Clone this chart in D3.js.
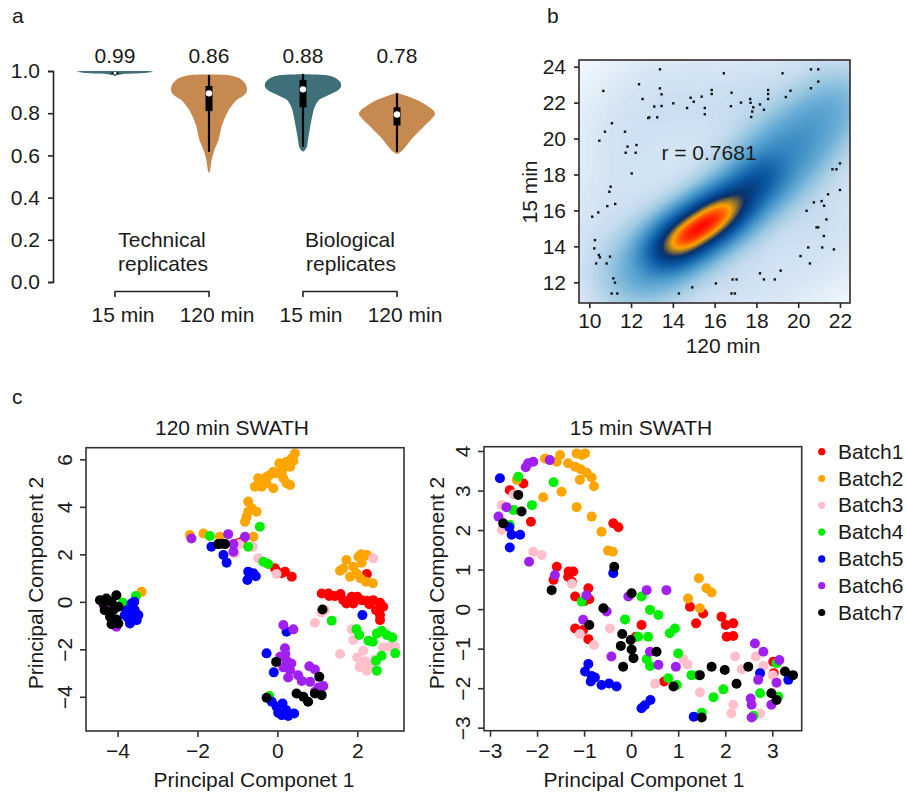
<!DOCTYPE html>
<html>
<head>
<meta charset="utf-8">
<script src="https://cdn.jsdelivr.net/npm/d3@7"></script>
<style>
  body { margin: 0; background: #fff; }
  text { font-family: "Liberation Sans", Arial, sans-serif; fill: #1a1a1a; }
</style>
</head>
<body>
<svg id="fig" width="906" height="795"></svg>
<script>
// ---------- panel a : violins ----------
var violinCats = ["15 min", "120 min", "15 min", "120 min"];
var violinMedians = ["0.99", "0.86", "0.88", "0.78"];
var replicateGroups = ["Technical", "Biological"];
// [correlation, relative width]
var violinTech15 = [[1.0, 0.9], [0.996, 1.0], [0.992, 0.85], [0.988, 0.45], [0.984, 0.15], [0.98, 0.04], [0.977, 0.0]];
var violinTech120 = [[0.983, 0.0], [0.978, 0.6], [0.96, 0.85], [0.935, 0.97], [0.91, 1.0], [0.89, 0.95], [0.862, 0.73], [0.83, 0.58], [0.799, 0.47], [0.736, 0.33], [0.672, 0.25], [0.625, 0.14], [0.578, 0.07], [0.53, 0.03], [0.515, 0.0]];
var violinBio15 = [[0.985, 0.0], [0.979, 0.66], [0.965, 0.88], [0.945, 0.99], [0.925, 1.0], [0.91, 0.93], [0.894, 0.77], [0.878, 0.58], [0.862, 0.42], [0.83, 0.31], [0.8, 0.26], [0.736, 0.19], [0.672, 0.13], [0.64, 0.1], [0.625, 0.05], [0.618, 0.0]];
var violinBio120 = [[0.897, 0.0], [0.885, 0.2], [0.862, 0.53], [0.83, 0.83], [0.81, 0.97], [0.795, 1.0], [0.775, 0.92], [0.736, 0.7], [0.688, 0.44], [0.64, 0.22], [0.62, 0.12], [0.605, 0.0]];
// [min, q1, median, q3, max]
var boxStats = [[0.98, 0.986, 0.99, 0.994, 0.997], [0.617, 0.81, 0.894, 0.929, 0.981], [0.641, 0.828, 0.913, 0.957, 0.986], [0.617, 0.742, 0.794, 0.828, 0.894]];

// ---------- panel b : smoothScatter ----------
// dense ridge of the peptide intensities
var densRidgeX = [13.2, 13.65, 14.1, 14.55, 15.0, 15.45, 15.9, 16.35, 16.8, 17.25, 17.7, 18.15, 18.6];
var densRidgeY = [13.52, 13.86, 14.21, 14.56, 14.91, 15.26, 15.6, 15.95, 16.3, 16.75, 17.25, 17.75, 18.25];
var densRidgeW = [0.2, 0.45, 0.75, 1.0, 1.0, 1.0, 1.0, 0.85, 0.58, 0.42, 0.32, 0.22, 0.15];
// wider, fainter band along the diagonal
var densHaloX = [11.8, 12.5, 13.2, 13.9, 14.6, 15.3, 16.0, 16.7, 17.4, 18.1, 18.8, 19.5, 20.2, 20.9, 21.6, 22.2];
var densHaloY = [12.1, 12.7, 13.35, 13.95, 14.5, 15.05, 15.6, 16.2, 16.95, 17.75, 18.55, 19.35, 20.15, 20.95, 21.7, 22.4];
var densHaloW = [0.036, 0.072, 0.116, 0.1, 0.09, 0.08, 0.08, 0.09, 0.11, 0.14, 0.16, 0.135, 0.105, 0.08, 0.058, 0.04];
var densBroadW = [0.0005, 0.0008, 0.001, 0.0015, 0.0018, 0.002, 0.002, 0.0018, 0.0015, 0.0014, 0.0013, 0.0011, 0.001, 0.0009, 0.0008, 0.0006];
var outlierX = [13.38, 16.44, 19.25, 20.61, 20.96, 20.96, 20.61, 19.63, 19.41, 18.56, 18.56, 18.56, 18.17, 18.36, 17.7, 17.72, 17.85, 17.8, 17.75, 17.26, 16.81, 16.78, 15.86, 15.86, 15.38, 15.53, 15.53, 15.0, 14.85, 14.68, 14.02, 13.46, 13.11, 13.25, 13.38, 13.46, 12.87, 12.82, 12.55, 12.38, 10.67, 11.08, 10.75, 10.48, 11.71, 11.83, 11.74, 12.26, 12.22, 12.03, 11.02, 10.96, 10.86, 11.24, 10.43, 10.14, 10.27, 10.24, 10.46, 10.51, 10.33, 10.83, 10.99, 11.15, 11.23, 11.07, 11.34, 14.29, 14.93, 16.06, 16.86, 17.05, 16.81, 16.97, 18.17, 18.36, 18.88, 19.16, 20.11, 20.56, 20.48, 20.4, 20.75, 20.88, 20.96, 21.12, 21.24, 21.35, 21.23, 21.15, 21.71, 21.43, 21.64, 21.83, 22.0, 22.0];
var outlierY = [23.85, 23.63, 23.63, 23.85, 23.85, 23.17, 22.8, 22.66, 22.31, 22.7, 22.48, 22.2, 21.9, 21.6, 22.2, 21.99, 21.74, 21.5, 21.2, 22.0, 22.55, 21.8, 22.7, 22.48, 22.33, 21.7, 21.35, 22.05, 22.27, 21.7, 21.96, 21.81, 21.78, 21.18, 22.79, 22.46, 21.18, 21.14, 22.2, 23.02, 22.65, 20.85, 20.38, 19.88, 20.38, 19.55, 19.21, 19.64, 19.21, 18.06, 17.32, 17.04, 16.24, 16.36, 15.89, 15.65, 14.35, 13.89, 13.52, 13.39, 13.05, 13.05, 13.43, 12.22, 11.98, 11.38, 11.38, 11.38, 11.72, 11.94, 12.16, 12.16, 11.38, 11.38, 12.5, 12.16, 12.16, 12.65, 13.46, 13.05, 13.94, 15.98, 16.45, 15.06, 15.06, 16.52, 16.26, 15.5, 14.58, 13.94, 13.83, 16.9, 18.29, 18.29, 18.62, 17.14];
var corrText = "r = 0.7681";

// ---------- panel c : PCA ----------
var batchNames = ["Batch1", "Batch2", "Batch3", "Batch4", "Batch5", "Batch6", "Batch7"];
var pca120 = [
  [[-1.0,2.46],[-0.89,2.53],[-0.06,1.41],[0.19,1.27],[0.36,1.06],[0.1,1.2],[2.24,1.17],[1.11,0.35],[1.28,0.35],[1.44,0.24],[1.58,0.33],[1.73,-0.07],[1.86,0.21],[2.0,0.21],[2.11,0.07],[2.24,0.04],[2.40,0.07],[2.57,-0.04],[2.47,-0.35],[2.65,-0.21],[2.57,-0.56],[2.57,-0.77],[1.65,0.07],[1.9,-0.07],[1.3,0.25],[2.3,-0.1]],
  [[-3.4,0.42],[-4.29,-0.1],[0.44,6.25],[0.36,6.04],[0.40,5.93],[0.23,5.90],[0.32,5.69],[0.15,5.66],[0.05,5.83],[0.11,5.48],[-0.02,5.41],[-0.10,5.48],[-0.19,5.34],[-0.27,5.27],[-0.35,5.13],[-0.48,5.20],[-0.27,4.99],[-0.39,4.85],[-0.56,4.85],[-0.10,4.78],[0.23,4.99],[0.32,4.92],[0.15,5.20],[-0.73,4.22],[-0.64,3.94],[-0.73,3.79],[-0.77,3.58],[-0.81,3.37],[-0.52,3.79],[-0.60,2.74],[-2.19,2.81],[-1.85,2.88],[-1.44,2.74],[1.57,1.31],[1.73,1.76],[1.90,1.48],[2.03,1.90],[2.24,1.97],[2.11,1.65],[1.98,1.20],[2.08,0.99],[2.22,0.85],[2.39,0.78],[1.82,1.06],[2.1,2.0],[1.65,1.4]],
  [[-0.94,2.43],[-0.62,2.32],[-1.06,2.04],[-0.48,1.83],[-0.02,1.17],[2.40,1.83],[1.19,-0.35],[0.94,-0.88],[1.86,-1.16],[1.90,-1.61],[1.57,-2.20],[2.0,-2.34],[2.15,-2.06],[2.34,-2.67],[2.24,-2.90],[2.64,-1.92],[2.80,-1.89],[2.95,-1.89],[2.44,-2.43],[2.06,-2.74],[1.1,-0.45],[2.2,-2.5]],
  [[-3.54,0.24],[-3.87,-0.04],[-0.44,3.16],[-1.69,2.77],[-0.73,2.32],[-0.35,1.69],[-0.23,1.59],[1.36,-0.80],[1.98,-1.16],[2.05,-1.40],[2.28,-1.64],[2.49,-1.33],[2.61,-1.22],[2.74,-1.40],[2.88,-1.50],[2.95,-2.17],[2.49,-2.90],[2.47,-2.48],[2.61,-2.27],[2.39,-1.68],[-0.2,-3.97]],
  [[-3.77,-0.35],[-3.65,-0.07],[-3.57,-0.35],[-3.52,-0.77],[-3.69,-0.91],[-3.82,-0.56],[-3.61,-0.49],[-3.48,-0.56],[-3.73,-0.70],[-3.58,0.0],[-1.65,2.32],[-1.35,1.97],[-1.27,1.65],[-0.73,1.27],[-0.60,1.20],[-0.75,0.92],[-0.54,1.08],[2.13,-0.56],[0.23,-1.26],[-0.27,-2.17],[-0.09,-2.97],[-0.14,-4.21],[-0.02,-4.42],[0.13,-4.28],[0.22,-4.56],[0.02,-4.67],[0.27,-4.81],[0.42,-4.70],[0.11,-4.77]],
  [[-4.03,-1.05],[-4.34,-0.18],[-2.15,2.67],[-1.23,2.85],[-1.10,2.43],[-0.81,2.74],[-1.10,2.11],[0.15,-0.98],[0.40,-1.16],[0.19,-1.96],[0.07,-2.31],[0.23,-2.48],[0.15,-2.76],[0.32,-2.88],[0.27,-3.19],[0.52,-3.09],[0.61,-3.33],[0.80,-2.71],[0.94,-2.85],[0.82,-3.37],[1.03,-3.61],[1.15,-3.55],[0.94,-3.79],[0.2,-2.2],[0.35,-2.6]],
  [[-4.44,0.07],[-4.28,0.14],[-4.03,0.28],[-4.15,0.0],[-4.32,-0.35],[-4.11,-0.35],[-3.98,-0.21],[-4.19,-0.63],[-4.03,-0.74],[-3.98,-0.91],[-4.15,-0.94],[-4.36,-0.04],[-1.48,2.43],[-1.31,2.43],[1.13,-0.32],[-0.27,-4.04],[-0.03,-2.53],[0.48,-3.86],[0.65,-4.0],[0.77,-4.21],[1.05,-3.16],[0.94,-3.86],[1.11,-3.93],[-1.4,2.45]]
];
var pca15 = [
  [[-2.58,3.01],[-2.29,3.18],[-2.13,2.21],[-1.58,1.07],[-1.65,0.74],[-1.34,0.82],[-1.23,0.95],[-1.26,0.69],[-1.19,0.32],[-0.91,0.53],[-0.89,0.25],[-1.19,-0.49],[-1.02,-0.53],[-0.91,-0.76],[-0.38,2.17],[-0.27,2.07],[0.22,-0.40],[0.10,-0.70],[0.70,-1.83],[1.25,0.06],[1.38,-0.36],[1.53,-0.11],[1.92,-0.19],[2.01,-0.40],[2.17,-0.36],[2.03,-0.70],[2.17,-0.68],[3.02,-1.33],[3.03,-1.62],[-1.33,0.95],[-1.0,0.2]],
  [[-2.43,3.27],[-1.83,3.81],[-1.58,3.73],[-1.51,3.90],[-1.34,3.69],[-1.16,3.94],[-0.98,3.94],[-1.19,3.60],[-1.07,3.54],[-0.95,3.45],[-0.84,3.33],[-0.79,3.11],[-1.09,3.27],[-1.48,2.97],[-1.87,2.83],[-1.16,2.58],[-0.84,2.34],[-0.63,1.96],[-0.49,1.48],[-0.39,1.45],[1.44,0.78],[1.21,0.27],[1.60,0.53],[1.71,0.42],[1.46,0.02],[-1.05,3.9]],
  [[-2.75,2.63],[-2.75,2.00],[-2.08,1.45],[-1.90,1.37],[-1.26,0.64],[-1.09,-0.63],[-0.79,-0.91],[-0.45,-0.49],[0.51,-1.89],[1.11,-1.27],[1.46,-2.11],[2.21,-1.20],[2.35,-1.52],[2.65,-1.20],[2.81,-1.44],[3.01,-1.67],[2.17,-2.42],[2.13,-2.64],[2.74,-2.64],[-2.5,2.9],[1.2,-1.4]],
  [[-2.40,3.35],[-2.50,2.51],[-2.11,2.63],[-1.65,3.21],[-1.05,0.19],[-0.13,-0.26],[0.22,0.32],[0.40,-0.02],[0.58,-0.15],[0.15,-0.70],[0.36,-0.70],[0.33,-1.27],[0.40,-1.44],[0.82,-0.61],[0.93,-0.49],[1.0,-1.12],[1.28,-1.67],[1.43,-1.67],[0.79,-1.75],[0.97,-1.92],[1.75,-2.23],[1.96,-2.03],[1.50,-2.62],[2.74,-2.13],[3.09,-1.37],[3.13,-2.21],[-2.58,2.13],[2.6,-2.7]],
  [[-2.79,3.31],[-2.59,2.07],[-2.54,1.88],[-2.36,1.88],[-2.58,1.56],[-0.38,0.91],[-0.91,-1.39],[-0.98,-1.58],[-0.84,-1.69],[-0.77,-1.73],[-0.86,-1.83],[-0.63,-1.92],[-0.47,-1.88],[-0.31,-1.96],[0.22,-2.51],[0.29,-2.43],[0.41,-2.30],[1.33,-2.72],[2.74,-1.62],[3.34,-1.79]],
  [[-2.82,2.34],[-2.65,2.58],[-2.19,3.69],[-2.08,3.73],[-2.24,3.59],[-1.73,3.77],[-1.62,0.86],[-2.17,1.20],[-1.02,-0.27],[-0.52,-0.06],[-0.42,-1.20],[-0.06,0.32],[0.33,0.48],[0.75,0.48],[0.40,-1.08],[0.58,-1.41],[0.95,-1.46],[2.63,-0.87],[2.81,-1.08],[2.70,-1.79],[3.15,-1.29],[2.54,-2.26],[2.56,-2.42],[2.98,-2.42],[2.56,-2.74],[3.09,-1.86],[-0.95,0.35]],
  [[-2.40,2.89],[-2.33,2.47],[-2.72,2.17],[-1.69,0.48],[-0.89,-0.40],[-0.59,0.02],[-0.36,1.07],[0.01,0.40],[-0.19,-0.63],[-0.22,-0.93],[-0.01,-0.78],[0.01,-1.02],[0.05,-1.24],[-0.17,-1.46],[0.54,-1.08],[0.90,-1.96],[1.46,-1.67],[1.71,-1.46],[1.99,-1.54],[2.24,-1.89],[2.49,-1.46],[2.98,-2.13],[3.09,-2.30],[3.27,-1.58],[3.44,-1.67],[1.50,-2.74]]
];

// ============================================================
var svg = d3.select("#fig");
var FS = 21;
var teal = "#3f6f78", tan = "#c68950";
var batchColors = ["#ff0000", "#ffa500", "#ffc0cb", "#00ee00", "#0000ff", "#a020f0", "#000000"];

function panelLetter(txt, x, y) {
  svg.append("text").attr("x", x).attr("y", y).attr("font-size", FS).text(txt);
}

// ---------------- panel a ----------------
panelLetter("a", 12, 23);
var yA = d3.scaleLinear().domain([0, 1]).range([282, 71]);
var xA = d3.scalePoint().domain([0, 1, 2, 3]).range([115, 397]);
var wA = d3.scaleLinear().domain([0, 1]).range([0, 38]);

var gA = svg.append("g");
var axA = gA.append("g").attr("transform", "translate(53,0)")
  .call(d3.axisLeft(yA).tickValues([0, 0.2, 0.4, 0.6, 0.8, 1.0]).tickFormat(d3.format(".1f")).tickSizeOuter(0).tickSize(5).tickPadding(8));
axA.select(".domain").attr("stroke", "#222").attr("stroke-width", 1.6);
axA.selectAll(".tick line").attr("stroke", "#222").attr("stroke-width", 1.6);
axA.selectAll("text").attr("font-size", FS).attr("font-family", null);

var violins = [violinTech15, violinTech120, violinBio15, violinBio120];
var violinFill = [teal, tan, teal, tan];
violins.forEach(function(prof, i) {
  var cx = xA(i);
  var area = d3.area()
    .y(function(d) { return yA(d[0]); })
    .x0(function(d) { return cx - wA(d[1]); })
    .x1(function(d) { return cx + wA(d[1]); })
    .curve(d3.curveCatmullRom);
  gA.append("path").attr("d", area(prof)).attr("fill", violinFill[i]);
  var b = boxStats[i];
  gA.append("line").attr("x1", cx).attr("x2", cx).attr("y1", yA(b[0])).attr("y2", yA(b[4]))
    .attr("stroke", "#000").attr("stroke-width", 2.2);
  gA.append("rect").attr("x", cx - 3.5).attr("width", 7).attr("y", yA(b[3])).attr("height", yA(b[1]) - yA(b[3]))
    .attr("fill", "#000");
  gA.append("circle").attr("cx", cx).attr("cy", yA(b[2])).attr("r", i === 0 ? 1.5 : 3.2).attr("fill", "#fff");
  gA.append("text").attr("x", xA(i)).attr("y", 63).attr("text-anchor", "middle").attr("font-size", FS).text(violinMedians[i]);
  gA.append("text").attr("x", xA(i) + 8).attr("y", 322).attr("text-anchor", "middle").attr("font-size", FS).text(violinCats[i]);
});
replicateGroups.forEach(function(g, j) {
  var x0 = xA(j * 2), x1 = xA(j * 2 + 1), mid = (x0 + x1) / 2;
  gA.append("path").attr("d", "M" + x0 + ",297V291.5H" + x1 + "V297")
    .attr("fill", "none").attr("stroke", "#222").attr("stroke-width", 1.6);
  gA.append("text").attr("x", mid).attr("y", 247).attr("text-anchor", "middle").attr("font-size", FS).text(g);
  gA.append("text").attr("x", mid + 1).attr("y", 271).attr("text-anchor", "middle").attr("font-size", FS).text("replicates");
});

// ---------------- panel b ----------------
panelLetter("b", 547, 23);
var xB = d3.scaleLinear().domain([9.507, 22.48]).range([579, 850]);
var yB = d3.scaleLinear().domain([10.85, 24.37]).range([303, 60]);
var bx0 = 579, by0 = 60, bW = 271, bH = 243;
var gB = svg.append("g");
svg.append("defs").append("clipPath").attr("id", "clipB")
  .append("rect").attr("x", bx0).attr("y", by0).attr("width", bW).attr("height", bH);

// kernel density grid
var cell = 2;
var nx = Math.ceil(bW / cell) + 1, ny = Math.ceil(bH / cell) + 1;
var grid = new Float64Array(nx * ny);
function addKernels(xs, ys, ws, sigma) {
  for (var k = 0; k < xs.length; k++) {
    var px = xB(xs[k]) - bx0, py = yB(ys[k]) - by0, w = ws[k];
    var s2 = 2 * sigma * sigma;
    for (var j = 0; j < ny; j++) {
      var dy = j * cell - py;
      for (var i = 0; i < nx; i++) {
        var dx = i * cell - px;
        grid[j * nx + i] += w * Math.exp(-(dx * dx + dy * dy) / s2);
      }
    }
  }
}
addKernels(densRidgeX, densRidgeY, densRidgeW, 13);
addKernels(densHaloX, densHaloY, densHaloW, 21);
addKernels(densHaloX, densHaloY, densBroadW, 50);
addKernels(outlierX, outlierY, outlierX.map(function() { return 0.001; }), 26);
var gmax = d3.max(grid);
var tgrid = Array.from(grid, function(v) { return Math.pow(v / gmax, 0.25); });
var ramp = ["#ffffff", "#f7fbff", "#deebf7", "#c6dbef", "#9ecae1", "#6baed6", "#4292c6", "#2171b5", "#08519c", "#08306b", "#ffa500", "#ff0000"];
var colB = d3.scaleLinear().domain(d3.range(ramp.length).map(function(i) { return i / (ramp.length - 1); })).range(ramp);
var levels = d3.range(0.01, 1.0, 0.012);
var contours = d3.contours().size([nx, ny]).thresholds(levels)(tgrid);
var gDen = gB.append("g").attr("clip-path", "url(#clipB)")
  .append("g").attr("transform", "translate(" + bx0 + "," + by0 + ")");
gDen.append("rect").attr("width", bW).attr("height", bH).attr("fill", "#fff");
gDen.selectAll("path").data(contours).enter().append("path")
  .attr("d", d3.geoPath(d3.geoIdentity().scale(cell)))
  .attr("fill", function(d) { return colB(d.value); });
gB.selectAll("rect.out").data(outlierX).enter().append("rect").attr("class", "out")
  .attr("x", function(d) { return xB(d) - 1.2; })
  .attr("y", function(d, i) { return yB(outlierY[i]) - 1.2; })
  .attr("width", 2.4).attr("height", 2.4).attr("fill", "#111");
gB.append("rect").attr("x", bx0).attr("y", by0).attr("width", bW).attr("height", bH)
  .attr("fill", "none").attr("stroke", "#332a2a").attr("stroke-width", 1.6);
var axBx = gB.append("g").attr("transform", "translate(0,303)")
  .call(d3.axisBottom(xB).tickValues(d3.range(10, 23, 2)).tickSize(5).tickSizeOuter(0));
var axBy = gB.append("g").attr("transform", "translate(579,0)")
  .call(d3.axisLeft(yB).tickValues(d3.range(12, 25, 2)).tickSize(5).tickSizeOuter(0).tickPadding(8));
[axBx, axBy].forEach(function(a) {
  a.select(".domain").remove();
  a.selectAll(".tick line").attr("stroke", "#222").attr("stroke-width", 1.6);
  a.selectAll("text").attr("font-size", FS).attr("font-family", null);
});
axBx.selectAll("text").attr("y", 25).attr("dy", null);
gB.append("text").attr("x", 723).attr("y", 353).attr("text-anchor", "middle").attr("font-size", FS).text("120 min");
gB.append("text").attr("transform", "translate(537,192) rotate(-90)").attr("text-anchor", "middle").attr("font-size", FS).text("15 min");
gB.append("text").attr("x", 709).attr("y", 160).attr("text-anchor", "middle").attr("font-size", FS).text(corrText);

// ---------------- panel c ----------------
panelLetter("c", 12, 404);
function pcaPanel(data, title, xDom, yDom, box, xt, yt, titleX, labX, ylabX) {
  var x = d3.scaleLinear().domain(xDom).range([box[0], box[1]]);
  var y = d3.scaleLinear().domain(yDom).range([box[3], box[2]]);
  var g = svg.append("g");
  data.forEach(function(pts, b) {
    g.append("g").selectAll("circle").data(pts).enter().append("circle")
      .attr("cx", function(d) { return x(d[0]); })
      .attr("cy", function(d) { return y(d[1]); })
      .attr("r", 5).attr("fill", batchColors[b]);
  });
  g.append("rect").attr("x", box[0]).attr("y", box[2]).attr("width", box[1] - box[0]).attr("height", box[3] - box[2])
    .attr("fill", "none").attr("stroke", "#333").attr("stroke-width", 1.6);
  var ax = g.append("g").attr("transform", "translate(0," + box[3] + ")")
    .call(d3.axisBottom(x).tickValues(xt).tickFormat(d3.format("d")).tickSize(6).tickSizeOuter(0));
  var ay = g.append("g").attr("transform", "translate(" + box[0] + ",0)")
    .call(d3.axisLeft(y).tickValues(yt).tickFormat(d3.format("d")).tickSize(6).tickSizeOuter(0));
  [ax, ay].forEach(function(a) {
    a.select(".domain").remove();
    a.selectAll(".tick line").attr("stroke", "#333").attr("stroke-width", 1.6);
    a.selectAll("text").attr("font-size", FS).attr("font-family", null);
  });
  ax.selectAll("text").attr("y", 27).attr("dy", null);
  ay.selectAll("text").attr("x", null).attr("dy", null).attr("text-anchor", "middle")
    .attr("transform", "translate(-14,0) rotate(-90)");
  g.append("text").attr("x", titleX).attr("y", 435).attr("text-anchor", "middle").attr("font-size", FS).text(title);
  g.append("text").attr("x", labX).attr("y", 787).attr("text-anchor", "middle").attr("font-size", FS).text("Principal Componet 1");
  g.append("text").attr("transform", "translate(" + ylabX + ",583) rotate(-90)").attr("text-anchor", "middle")
    .attr("font-size", FS).text("Principal Component 2");
}
pcaPanel(pca120, "120 min SWATH", [-4.79, 3.17], [-5.44, 6.49], [86, 404, 447.7, 731],
  [-4, -2, 0, 2], [-4, -2, 0, 2, 4, 6], 232, 254, 43);
pcaPanel(pca15, "15 min SWATH", [-3.128, 3.625], [-3.076, 4.109], [484, 801.7, 446.7, 730.7],
  [-3, -2, -1, 0, 1, 2, 3], [-3, -2, -1, 0, 1, 2, 3, 4], 641, 644, 444);

// legend
var lg = svg.append("g");
batchNames.forEach(function(n, i) {
  var yy = 451.7 + i * 26.8;
  lg.append("circle").attr("cx", 821.7).attr("cy", yy).attr("r", 3.6).attr("fill", batchColors[i]);
  lg.append("text").attr("x", 838).attr("y", yy + 7).attr("font-size", FS).text(n);
});
</script>
</body>
</html>
